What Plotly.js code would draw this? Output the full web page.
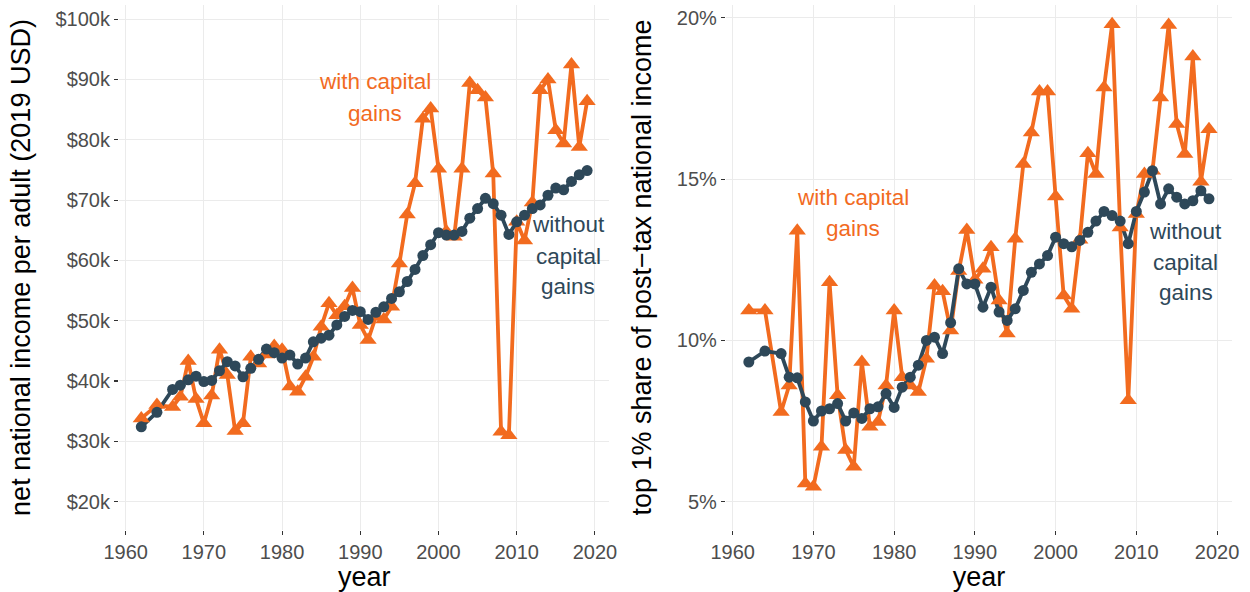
<!DOCTYPE html>
<html>
<head>
<meta charset="utf-8">
<script src="https://cdn.plot.ly/plotly-3.0.1.min.js"></script>
<style>html,body{margin:0;padding:0;background:#fff;}#chart{width:1250px;height:592px;}</style>
</head>
<body>
<div id="chart"></div>
<script>
// ---- data ----
const years = [1962,1964,1966,1967,1968,1969,1970,1971,1972,1973,1974,1975,1976,1977,1978,1979,1980,1981,1982,1983,1984,1985,1986,1987,1988,1989,1990,1991,1992,1993,1994,1995,1996,1997,1998,1999,2000,2001,2002,2003,2004,2005,2006,2007,2008,2009,2010,2011,2012,2013,2014,2015,2016,2017,2018,2019];

// net national income per adult, thousands of 2019 USD
const incomeWithCG = [33.8,36.0,35.7,37.4,43.3,37.0,33.0,37.6,45.2,41.0,31.7,33.0,44.0,42.9,44.4,45.8,45.2,39.1,38.2,40.7,44.0,49.0,52.9,50.9,52.4,55.4,49.3,46.8,50.7,50.2,52.3,59.5,67.6,72.8,83.5,85.2,75.2,64.8,63.9,75.2,89.4,88.2,87.0,74.4,31.6,31.0,66.4,63.3,69.6,88.2,90.0,81.6,79.4,92.5,78.8,86.4];
const incomeWithoutCG = [32.4,34.8,38.6,39.3,40.2,40.8,39.9,40.1,41.7,43.2,42.5,40.7,42.1,43.6,45.3,44.7,43.8,44.3,42.8,43.8,46.5,47.1,47.6,49.3,50.7,51.7,51.5,50.2,51.4,52.3,53.7,54.8,56.5,58.5,60.8,62.6,64.6,64.2,64.2,64.8,67.0,68.6,70.3,69.4,67.5,64.3,66.4,67.5,68.6,69.2,70.8,72.0,71.7,73.1,74.2,74.9];

// top 1% share of post-tax national income, percent
const shareWithCG = [10.93,10.93,7.78,8.6,13.4,5.56,5.46,6.7,11.8,8.3,6.6,6.08,9.33,7.32,7.47,8.6,10.93,8.86,8.6,8.4,9.43,11.7,11.52,10.31,12.15,13.42,11.88,12.22,12.89,11.24,10.21,13.15,15.47,16.45,17.72,17.72,14.46,11.39,10.98,13.12,15.8,15.16,17.84,19.8,13.5,8.14,13.92,15.16,15.26,17.53,19.78,16.71,15.78,18.8,14.92,16.55];
const shareWithoutCG = [9.33,9.67,9.59,8.86,8.84,8.09,7.5,7.81,7.88,8.04,7.5,7.75,7.58,7.88,7.94,8.35,7.92,8.55,8.86,9.23,10.0,10.1,9.59,10.55,12.22,11.75,11.75,11.03,11.65,10.88,10.62,10.98,11.55,12.11,12.37,12.63,13.2,13.0,12.9,13.1,13.35,13.7,14.0,13.87,13.7,13.0,14.0,14.6,15.26,14.23,14.7,14.44,14.23,14.33,14.64,14.39];

const xTicks = [1960,1970,1980,1990,2000,2010,2020];
const incomeTicks = [20,30,40,50,60,70,80,90,100];
const incomeTickText = incomeTicks.map(v => "$" + v + "k");
const shareTicks = [5,10,15,20];
const shareTickText = shareTicks.map(v => v + "%");

const labelWith = ["with capital", "gains"];
const labelWithout = ["without", "capital", "gains"];

// ---- styling ----
const ORANGE = "#F26B1F";
const BLUE = "#2E4859";
const FONT = "Liberation Sans, Arial, Helvetica, sans-serif";

function lineTrace(y, color, xa, ya) {
  return {x: years, y: y, xaxis: xa, yaxis: ya, type: "scatter", mode: "lines",
          line: {color: color, width: 3.8}, hoverinfo: "skip", showlegend: false};
}
function markerTrace(y, color, symbol, size, xa, ya) {
  return {x: years, y: y, xaxis: xa, yaxis: ya, type: "scatter", mode: "markers",
          marker: {color: color, symbol: symbol, size: size, line: {width: 0}},
          hoverinfo: "skip", showlegend: false};
}

const data = [
  lineTrace(incomeWithCG, ORANGE, "x", "y"),
  lineTrace(incomeWithoutCG, BLUE, "x", "y"),
  markerTrace(incomeWithCG, ORANGE, "triangle-up", 15, "x", "y"),
  markerTrace(incomeWithoutCG, BLUE, "circle", 11, "x", "y"),
  lineTrace(shareWithCG, ORANGE, "x2", "y2"),
  lineTrace(shareWithoutCG, BLUE, "x2", "y2"),
  markerTrace(shareWithCG, ORANGE, "triangle-up", 15, "x2", "y2"),
  markerTrace(shareWithoutCG, BLUE, "circle", 11, "x2", "y2")
];

const axisCommon = {
  showgrid: true, gridcolor: "#EBEBEB", gridwidth: 1,
  zeroline: false, showline: false,
  ticks: "outside", ticklen: 4, tickwidth: 1.1, tickcolor: "#333333",
  tickfont: {family: FONT, size: 20, color: "#4D4D4D"},
  automargin: false, fixedrange: true
};

function textLines(lines, x, yVals, color, xref, yref) {
  return lines.map((t, i) => ({
    text: t, x: x, y: yVals[i], xref: xref, yref: yref,
    showarrow: false, xanchor: "center", yanchor: "middle",
    font: {family: FONT, size: 22.5, color: color}
  }));
}

const TITLE_FONT = {family: FONT, size: 27, color: "#000"};

const layout = {
  width: 1250, height: 592,
  margin: {l: 119, r: 18, t: 5, b: 62},
  paper_bgcolor: "#ffffff", plot_bgcolor: "#ffffff",
  font: {family: FONT},
  showlegend: false,
  xaxis: Object.assign({}, axisCommon, {
    domain: [0, 0.4406], range: [1959.15, 2021.85], anchor: "y",
    tickvals: xTicks,
    title: {text: "year", font: TITLE_FONT, standoff: 5}
  }),
  yaxis: Object.assign({}, axisCommon, {
    domain: [0, 1], range: [15.29, 102.35], anchor: "x",
    tickvals: incomeTicks, ticktext: incomeTickText,
    title: {text: "net national income per adult (2019 USD)", font: TITLE_FONT, standoff: 17}
  }),
  xaxis2: Object.assign({}, axisCommon, {
    domain: [0.5452, 1], range: [1959.15, 2021.85], anchor: "y2",
    tickvals: xTicks,
    title: {text: "year", font: TITLE_FONT, standoff: 5}
  }),
  yaxis2: Object.assign({}, axisCommon, {
    domain: [0, 1], range: [4.12, 20.40], anchor: "x2",
    tickvals: shareTicks, ticktext: shareTickText,
    title: {text: "top 1% share of post\u2212tax national income", font: TITLE_FONT, standoff: 17}
  }),
  annotations: [].concat(
    textLines(labelWith, 1991.9, [89.6, 84.4], ORANGE, "x", "y"),
    textLines(labelWithout, 2016.6, [65.9, 60.7, 55.6], BLUE, "x", "y"),
    textLines(labelWith, 1974.9, [14.43, 13.47], ORANGE, "x2", "y2"),
    textLines(labelWithout, 2016.1, [13.38, 12.42, 11.49], BLUE, "x2", "y2")
  )
};

Plotly.newPlot("chart", data, layout, {staticPlot: true, displayModeBar: false});
</script>
</body>
</html>
